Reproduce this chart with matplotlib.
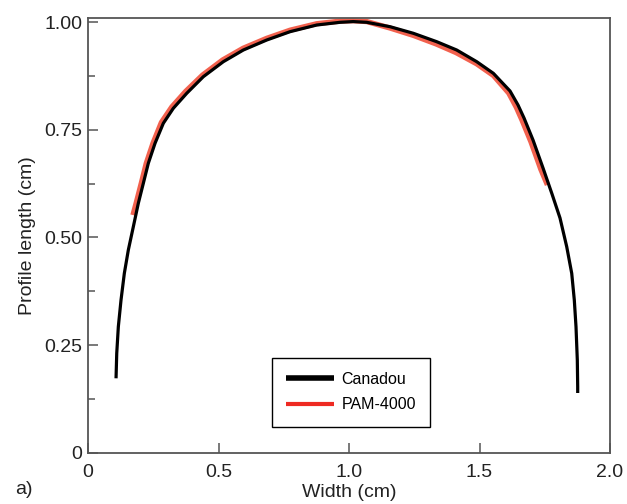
import matplotlib
matplotlib.use("Agg")
import matplotlib.pyplot as plt
from matplotlib.ticker import MultipleLocator

# profile traced from the Canadou instrument (cm)
canadou_x = [0.1073, 0.1100, 0.1161, 0.1264, 0.1391, 0.1544, 0.1736, 0.1927,
             0.2119, 0.2310, 0.2567, 0.2885, 0.3268, 0.3782, 0.4418, 0.5184,
             0.5950, 0.6847, 0.7739, 0.8762, 0.9655, 1.0160, 1.0678, 1.1571,
             1.2464, 1.3360, 1.4126, 1.4893, 1.5529, 1.6169, 1.6475, 1.6705,
             1.7050, 1.7433, 1.7778, 1.8084, 1.8341, 1.8533, 1.8632, 1.8697,
             1.8747, 1.8762, 1.8762]
canadou_y = [0.1733, 0.2313, 0.2930, 0.3550, 0.4169, 0.4710, 0.5251, 0.5794,
             0.6258, 0.6722, 0.7186, 0.7650, 0.7998, 0.8346, 0.8731, 0.9079,
             0.9350, 0.9582, 0.9775, 0.9930, 0.9993, 1.0010, 0.9993, 0.9891,
             0.9738, 0.9543, 0.9350, 0.9079, 0.8810, 0.8399, 0.8074, 0.7773,
             0.7262, 0.6613, 0.6009, 0.5452, 0.4787, 0.4169, 0.3550, 0.2930,
             0.2158, 0.1538, 0.1392]

# profile from the PAM-4000 (cm)
pam_x = [0.172, 0.184, 0.204, 0.223, 0.249, 0.281, 0.321, 0.374, 0.439,
         0.516, 0.594, 0.684, 0.774, 0.876, 0.966, 1.016, 1.068, 1.157,
         1.246, 1.334, 1.410, 1.489, 1.553, 1.612, 1.641, 1.663, 1.697,
         1.735, 1.760]
pam_y = [0.552, 0.579, 0.626, 0.672, 0.719, 0.767, 0.803, 0.839, 0.877,
         0.912, 0.939, 0.962, 0.981, 0.996, 1.002, 1.003, 1.001, 0.986,
         0.969, 0.949, 0.929, 0.903, 0.876, 0.835, 0.802, 0.772, 0.722,
         0.658, 0.622]

x_ticks = [0, 0.5, 1.0, 1.5, 2.0]
x_ticklabels = ["0", "0.5", "1.0", "1.5", "2.0"]
y_ticks = [0, 0.25, 0.50, 0.75, 1.00]
y_ticklabels = ["0", "0.25", "0.50", "0.75", "1.00"]

plt.rcParams["font.family"] = ["Liberation Sans", "DejaVu Sans"]

fig = plt.figure(figsize=(6.27, 5.04), dpi=100)
ax = fig.add_axes([0.1404, 0.1012, 0.8325, 0.8631])

l_red, = ax.plot(pam_x, pam_y, color="#f0452f", lw=3.8, alpha=0.85,
                 solid_capstyle="butt", solid_joinstyle="round",
                 label="PAM-4000", zorder=2)
l_blk, = ax.plot(canadou_x, canadou_y, color="black", lw=2.3,
                 solid_capstyle="butt", solid_joinstyle="round",
                 label="Canadou", zorder=3)

ax.set_xlim(0, 2.0)
ax.set_ylim(0, 1.0093)
ax.set_xticks(x_ticks)
ax.set_xticklabels(x_ticklabels)
ax.set_yticks(y_ticks)
ax.set_yticklabels(y_ticklabels)
ax.yaxis.set_minor_locator(MultipleLocator(0.125))

for s in ax.spines.values():
    s.set_color("#555555")
    s.set_linewidth(1.3)

ax.tick_params(which="both", direction="in", color="#555555", width=1.1,
               labelsize=14, labelcolor="#222222")
ax.tick_params(axis="y", which="major", length=7, pad=4)
ax.tick_params(axis="y", which="minor", length=5)
ax.tick_params(axis="x", which="major", length=7, pad=8)

ax.set_xlabel("Width (cm)", fontsize=14, color="#222222", labelpad=2)
ax.set_ylabel("Profile length (cm)", fontsize=14, color="#222222", labelpad=6)

fig.text(0.024, 0.02, "a)", fontsize=14, color="#222222")

leg = ax.legend(handles=[l_blk, l_red], loc="lower left",
                bbox_to_anchor=(0.3525, 0.0605), borderaxespad=0,
                fontsize=11.5, fancybox=False, framealpha=1, edgecolor="black",
                handlelength=3.0, handletextpad=0.45, borderpad=0.9,
                labelspacing=0.65)
leg.get_frame().set_linewidth(1.0)
leg.get_lines()[0].set_linewidth(4.0)
leg.get_lines()[1].set_linewidth(3.0)
leg.get_lines()[1].set_color("#ee2a22")
leg.get_lines()[1].set_alpha(1)

fig.savefig("out.png", dpi=100)
